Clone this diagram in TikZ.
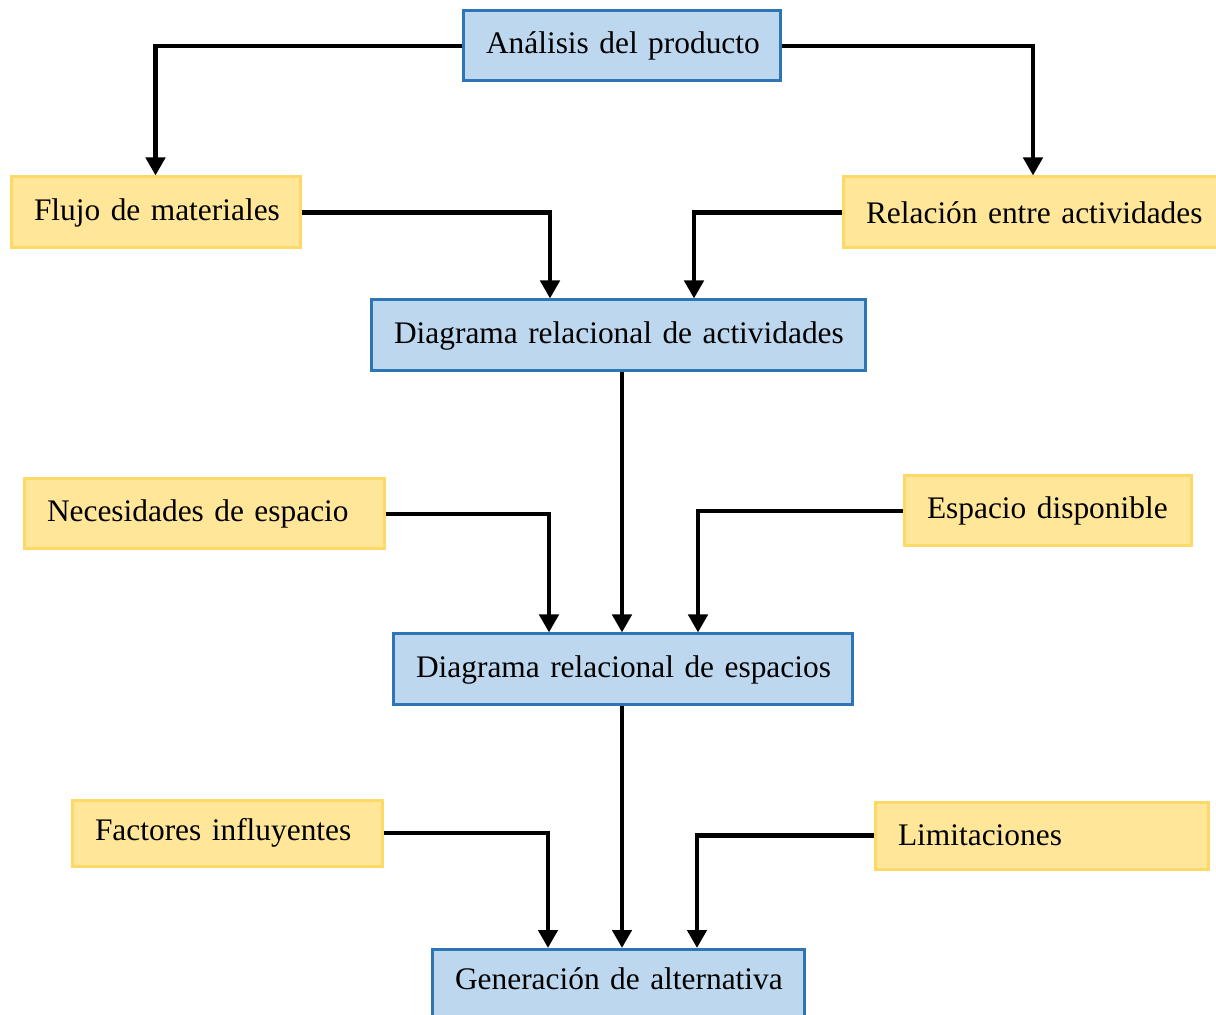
\documentclass[tikz,border=0pt]{standalone}
\usepackage{fontspec}
\setmainfont{Liberation Serif}
\usetikzlibrary{arrows.meta}
\definecolor{stageFill}{HTML}{BDD7EE}
\definecolor{stageLine}{HTML}{2E75B6}
\definecolor{inputFill}{HTML}{FFE699}
\definecolor{inputLine}{HTML}{FFD966}
\begin{document}
\begin{tikzpicture}[x=0.5pt,y=-0.5pt,
  boxbase/.style={rectangle, line width=1.5pt, inner xsep=11.5pt, inner ysep=0pt,
    align=left, font=\fontsize{15.7}{18}\selectfont},
  stagebox/.style={boxbase, draw=stageLine, fill=stageFill},
  inputbox/.style={boxbase, draw=inputLine, fill=inputFill},
  conn/.style={line width=2.3pt, -{Triangle[length=9pt,width=9.5pt]}}]
  \useasboundingbox (0,0) rectangle (1216,1015);
  \clip (0,0) rectangle (1216,1015);

  % process stages
  \node[stagebox, text width=135.5pt, minimum height=35pt]   (ana) at (621.5,46)  {\mbox{Análisis del producto}};
  \node[stagebox, text width=224pt,   minimum height=35.5pt] (dra) at (618,335.5) {\mbox{Diagrama relacional de actividades}};
  \node[stagebox, text width=206.5pt, minimum height=35.5pt] (dre) at (622.5,669.5) {\mbox{Diagrama relacional de espacios}};
  % the last stage runs on below the lower edge
  \node[stagebox, text width=163pt, anchor=north, inner ysep=6pt,
        text height=14pt, text depth=30pt]                   (gen) at (618,948)   {\mbox{Generación de alternativa}};

  % inputs
  \node[inputbox, text width=121.5pt, minimum height=35.5pt] (flu) at (155.5,212.5) {\mbox{Flujo de materiales}};
  \node[inputbox, text width=167pt,   minimum height=35.5pt] (rel) at (1033,212.5)  {\mbox{Relación entre actividades}};
  \node[inputbox, text width=157pt,   minimum height=35pt]   (nec) at (204,514)      {\mbox{Necesidades de espacio}};
  \node[inputbox, text width=120.5pt, minimum height=35pt]   (esp) at (1047.5,511)   {\mbox{Espacio disponible}};
  \node[inputbox, text width=132pt,   minimum height=33pt]   (fac) at (227,833)      {\mbox{Factores influyentes}};
  \node[inputbox, text width=143.5pt, minimum height=33.5pt] (lim) at (1041.5,835.5) {\mbox{Limitaciones}};

  % columns where the connectors drop into the stages
  \coordinate (c1L) at (550,0);
  \coordinate (c1R) at (694,0);
  \coordinate (cM)  at (622,0);
  \coordinate (c2L) at (549,0);
  \coordinate (c2R) at (698,0);
  \coordinate (c3L) at (548,0);
  \coordinate (c3R) at (697,0);

  % connectors
  \draw[conn] (ana.west) -| (flu.north);
  \draw[conn] (ana.east) -| (rel.north);
  \draw[conn] (flu.east) -| (dra.north -| c1L);
  \draw[conn] (rel.west) -| (dra.north -| c1R);
  \draw[conn] (dra.south -| cM) -- (dre.north -| cM);
  \draw[conn] (nec.east) -| (dre.north -| c2L);
  \draw[conn] (esp.west) -| (dre.north -| c2R);
  \draw[conn] (dre.south -| cM) -- (gen.north -| cM);
  \draw[conn] (fac.east) -| (gen.north -| c3L);
  \draw[conn] (lim.west) -| (gen.north -| c3R);
\end{tikzpicture}
\end{document}
